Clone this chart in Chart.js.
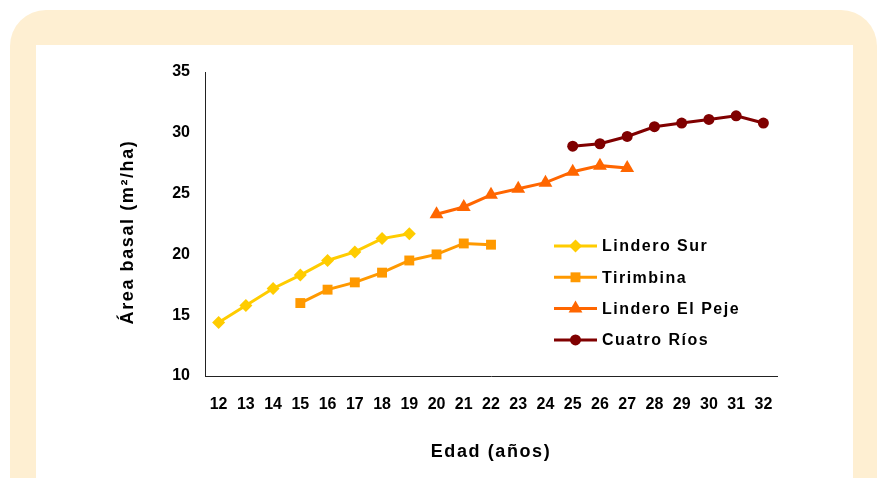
<!DOCTYPE html>
<html lang="es">
<head>
<meta charset="utf-8">
<title>Área basal por edad</title>
<script src="https://cdn.jsdelivr.net/npm/chart.js@4/dist/chart.umd.min.js"></script>
<style>
  html, body { margin: 0; padding: 0; background: #ffffff; overflow: hidden; }
  body { width: 877px; height: 478px; position: relative; }
  .frame {
    position: absolute; left: 10px; top: 10px; width: 867px; height: 520px;
    background: #FEEFD2; border-radius: 36px;
  }
  .panel {
    position: absolute; left: 36px; top: 45px; width: 817px; height: 460px;
    background: #ffffff;
  }
  #chart { position: absolute; left: 0; top: 0; }
</style>
</head>
<body>
<div class="frame"></div>
<div class="panel"></div>
<canvas id="chart" width="877" height="478"></canvas>
<script>
// Age categories (years) shown along the x axis
const edades = ['12','13','14','15','16','17','18','19','20','21','22',
                '23','24','25','26','27','28','29','30','31','32'];

// Basal area (m²/ha) by site
const linderoSurEdad = [12, 13, 14, 15, 16, 17, 18, 19];
const linderoSurArea = [14.4, 15.8, 17.2, 18.3, 19.5, 20.2, 21.3, 21.7];

const tirimbinaEdad = [15, 16, 17, 18, 19, 20, 21, 22];
const tirimbinaArea = [16.0, 17.1, 17.7, 18.5, 19.5, 20.0, 20.9, 20.8];

const elPejeEdad = [20, 21, 22, 23, 24, 25, 26, 27];
const elPejeArea = [23.3, 23.9, 24.9, 25.4, 25.9, 26.8, 27.3, 27.1];

const cuatroRiosEdad = [25, 26, 27, 28, 29, 30, 31, 32];
const cuatroRiosArea = [28.9, 29.1, 29.7, 30.5, 30.8, 31.1, 31.4, 30.8];

// y-axis ticks
const yTicks = [10, 15, 20, 25, 30, 35];

const FONT = "'Liberation Sans', Arial, Helvetica, sans-serif";

function puntos(edad, area) {
  return edad.map((e, i) => ({ x: String(e), y: area[i] }));
}

function serie(label, edad, area, color, style, radius) {
  return {
    label,
    data: puntos(edad, area),
    borderColor: color,
    backgroundColor: color,
    borderWidth: 3,
    pointStyle: style,
    pointRadius: radius,
    pointHoverRadius: radius,
    pointBorderWidth: 0,
    pointBackgroundColor: color,
    tension: 0,
    fill: false
  };
}

// Draws a marker of the given style (fallback when Chart.helpers is absent)
function marker(ctx, style, r, x, y, color) {
  if (window.Chart && Chart.helpers && Chart.helpers.drawPoint) {
    ctx.fillStyle = color; ctx.strokeStyle = color; ctx.lineWidth = 0;
    Chart.helpers.drawPoint(ctx, { pointStyle: style, radius: r, borderWidth: 0 }, x, y);
    return;
  }
  ctx.fillStyle = color;
  ctx.beginPath();
  if (style === 'circle') {
    ctx.arc(x, y, r, 0, Math.PI * 2);
  } else if (style === 'rect') {
    const s = r * Math.SQRT1_2; ctx.rect(x - s, y - s, 2 * s, 2 * s);
  } else if (style === 'rectRot') {
    ctx.moveTo(x, y - r); ctx.lineTo(x + r, y); ctx.lineTo(x, y + r); ctx.lineTo(x - r, y);
  } else if (style === 'triangle') {
    const h = r * 1.5, w = r * Math.sqrt(3) / 2;
    ctx.moveTo(x, y - r); ctx.lineTo(x + w, y + r / 2); ctx.lineTo(x - w, y + r / 2);
  }
  ctx.closePath();
  ctx.fill();
}

// Legend with a line sample and marker, plus the two axis titles
const decoracion = {
  id: 'decoracion',
  afterDraw(chart) {
    const ctx = chart.ctx;
    ctx.save();
    // legend
    const lx0 = 554, lx1 = 597, tx = 602, y0 = 246, dy = 31.3;
    ctx.font = "bold 16px " + FONT;
    try { ctx.letterSpacing = '1.5px'; } catch (e) {}
    ctx.textBaseline = 'middle';
    ctx.textAlign = 'left';
    chart.data.datasets.forEach((ds, i) => {
      const y = y0 + i * dy;
      ctx.strokeStyle = ds.borderColor;
      ctx.lineWidth = 3;
      ctx.beginPath(); ctx.moveTo(lx0, y); ctx.lineTo(lx1, y); ctx.stroke();
      marker(ctx, ds.pointStyle, ds.pointRadius, (lx0 + lx1) / 2, y, ds.borderColor);
      ctx.fillStyle = '#000000';
      ctx.fillText(ds.label, tx, y + 1);
    });
    // axis titles
    ctx.font = "bold 18px " + FONT;
    try { ctx.letterSpacing = '1.6px'; } catch (e) {}
    ctx.fillStyle = '#000000';
    ctx.textAlign = 'center';
    ctx.fillText('Edad (años)', 491, 452);
    ctx.translate(128, 232);
    ctx.rotate(-Math.PI / 2);
    ctx.fillText('Área basal (m²/ha)', 0, 0);
    ctx.restore();
  }
};

new Chart(document.getElementById('chart'), {
  type: 'line',
  data: {
    labels: edades,
    datasets: [
      serie('Lindero Sur', linderoSurEdad, linderoSurArea, '#FFCC00', 'rectRot', 6.5),
      serie('Tirimbina', tirimbinaEdad, tirimbinaArea, '#FF9900', 'rect', 7),
      serie('Lindero El Peje', elPejeEdad, elPejeArea, '#FF6600', 'triangle', 8),
      serie('Cuatro Ríos', cuatroRiosEdad, cuatroRiosArea, '#800000', 'circle', 5.5)
    ]
  },
  options: {
    responsive: false,
    animation: false,
    events: [],
    layout: { padding: { left: 0, top: 72, right: 100, bottom: 0 } },
    plugins: {
      legend: { display: false },
      tooltip: { enabled: false },
      title: { display: false }
    },
    scales: {
      x: {
        type: 'category',
        offset: true,
        grid: { display: false, drawTicks: false },
        border: { display: true, color: '#222222', width: 1 },
        ticks: {
          color: '#000000',
          padding: 19,
          maxRotation: 0,
          autoSkip: false,
          font: { family: FONT, size: 16, weight: 'bold' }
        },
        afterFit(scale) { scale.height = 102; }
      },
      y: {
        min: 10,
        max: 35,
        afterBuildTicks(scale) { scale.ticks = yTicks.map(v => ({ value: v })); },
        grid: { display: false, drawTicks: false },
        border: { display: true, color: '#222222', width: 1 },
        ticks: {
          color: '#000000',
          padding: 15,
          font: { family: FONT, size: 16, weight: 'bold' }
        },
        afterFit(scale) { scale.width = 205; }
      }
    }
  },
  plugins: [decoracion]
});
</script>
</body>
</html>
